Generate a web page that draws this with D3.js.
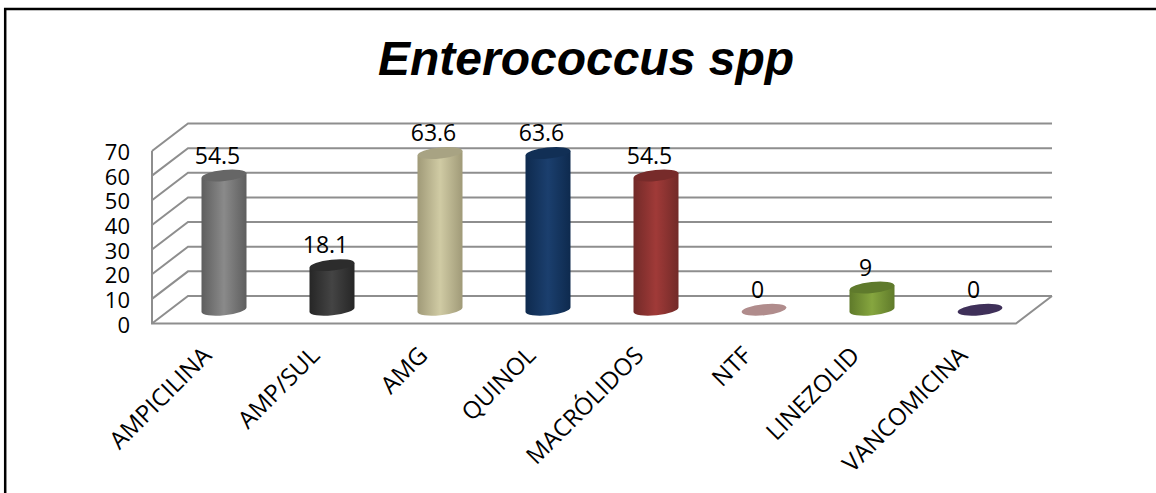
<!DOCTYPE html>
<html>
<head>
<meta charset="utf-8">
<script src="https://cdn.jsdelivr.net/npm/d3@7"></script>
<style>
  html, body { margin: 0; padding: 0; background: #fff; }
  svg { display: block; }
  text { font-family: "Open Sans", sans-serif; fill: #000; }
</style>
</head>
<body>
<svg id="chart" width="1156" height="493"></svg>
<script>
const categories = ['AMPICILINA', 'AMP/SUL', 'AMG', 'QUINOL', 'MACRÓLIDOS', 'NTF', 'LINEZOLID', 'VANCOMICINA']
const values = [54.5, 18.1, 63.6, 63.6, 54.5, 0, 9, 0]
const yTicks = [0, 10, 20, 30, 40, 50, 60, 70]
// edge, mid, top of each cylinder
const edgeColors = ['#5e5e5e', '#262626', '#a09a78', '#0e2a4e', '#722a28', '#b08c8c', '#5f7a2a', '#3f3059']
const midColors = ['#8a8a8a', '#444444', '#d0cba4', '#1b3f6e', '#a03a38', '#b08c8c', '#86a63f', '#3f3059']
const topColors = ['#666666', '#2c2c2c', '#a8a383', '#112f55', '#772b2a', '#b08c8c', '#5f7a2c', '#3f3059']
const titleText = 'Enterococcus spp'

const depth = { x: 36, y: -27.5 }
const barRx = 22.5
const barRy = 5.5
const barTilt = -6

const svg = d3.select('#chart')

const x = d3.scaleBand()
	.domain(categories)
	.range([152, 1016])

const y = d3.scaleLinear()
	.domain([0, 70])
	.range([323.5, 151])

// frame, only top and left show
svg.append('path')
	.attr('d', 'M5.2,493V9H1156')
	.attr('fill', 'none')
	.attr('stroke', '#000')
	.attr('stroke-width', 2.5)

svg.append('text')
	.attr('x', 586)
	.attr('y', 75)
	.attr('text-anchor', 'middle')
	.style('font-family', '"Liberation Sans", Arial, sans-serif')
	.style('font-weight', 'bold')
	.style('font-style', 'italic')
	.style('font-size', '48px')
	.text(titleText)

const grid = svg.append('g')
	.attr('fill', 'none')
	.attr('stroke', '#8e8e8e')
	.attr('stroke-width', 2)

// side wall and back wall lines
grid.selectAll('.wall')
	.data(yTicks)
	.enter().append('path')
		.attr('class', 'wall')
		.attr('d', (d) => {
			const left = x.range()[0]
			return `M${left},${y(d)}L${left + depth.x},${y(d) + depth.y}H${x.range()[1] + depth.x}`
		})

grid.append('path')
	.attr('d', `M${x.range()[0]},${y(70)}V${y(0)}H${x.range()[1]}L${x.range()[1] + depth.x},${y(0) + depth.y}`)

const yAxis = svg.append('g')
	.attr('transform', `translate(${x.range()[0]},1.5)`)
	.call(d3.axisLeft(y).tickValues(yTicks).tickSize(0).tickPadding(22))
yAxis.select('.domain').remove()
yAxis.selectAll('text')
	.style('font-size', '22px')

const gradients = svg.append('defs').selectAll('linearGradient')
	.data(categories)
	.enter().append('linearGradient')
		.attr('id', (d, i) => 'bar-' + i)

gradients.append('stop').attr('offset', '0%').attr('stop-color', (d, i) => edgeColors[i])
gradients.append('stop').attr('offset', '50%').attr('stop-color', (d, i) => midColors[i])
gradients.append('stop').attr('offset', '100%').attr('stop-color', (d, i) => edgeColors[i])

const cx = (d) => x(d) + x.bandwidth() / 2 + depth.x / 2
const barY = (v) => y(v) + depth.y / 2

const rows = categories.map((name, i) => ({ name, i, value: values[i] }))

const bars = svg.selectAll('.bar')
	.data(rows)
	.enter().append('g')
		.attr('class', 'bar')

// tilted ellipses, so the end points shift with the tilt
const tiltDy = barRx * Math.sin(barTilt * Math.PI / 180)

bars.filter((d) => d.value > 0).append('path')
	.attr('fill', (d) => `url(#bar-${d.i})`)
	.attr('d', (d) => {
		const l = cx(d.name) - barRx
		const r = cx(d.name) + barRx
		const top = barY(d.value)
		const base = barY(0)
		return `M${l},${top - tiltDy}L${l},${base - tiltDy}` +
			`A${barRx},${barRy} ${barTilt} 0 0 ${r},${base + tiltDy}` +
			`L${r},${top + tiltDy}Z`
	})

bars.append('ellipse')
	.attr('rx', barRx)
	.attr('ry', barRy)
	.attr('fill', (d) => topColors[d.i])
	.attr('transform', (d) => `translate(${cx(d.name)},${barY(d.value)}) rotate(${barTilt})`)

svg.selectAll('.value')
	.data(rows)
	.enter().append('text')
		.attr('class', 'value')
		.attr('x', (d) => cx(d.name) - 6.5)
		.attr('y', (d) => barY(d.value) - 20)
		.attr('dy', '0.36em')
		.attr('text-anchor', 'middle')
		.style('font-size', '23px')
		.text((d) => d.value)

svg.selectAll('.category')
	.data(categories)
	.enter().append('text')
		.attr('class', 'category')
		.attr('text-anchor', 'end')
		.style('font-size', '24px')
		.attr('transform', (d) => `translate(${x(d) + x.bandwidth() / 2 + 7},${357}) rotate(-45)`)
		.text((d) => d)
</script>
</body>
</html>
